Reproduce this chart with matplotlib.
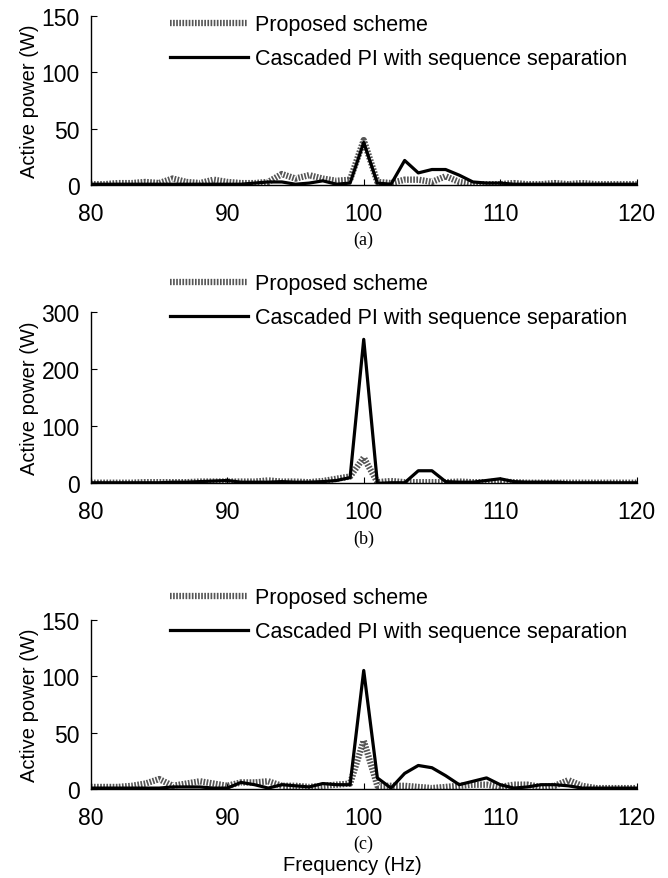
import numpy as np
import matplotlib.pyplot as plt
import matplotlib.patheffects as pe

freq = np.arange(80, 121)

# (a)
proposed_a = [1, 1, 2, 2, 3, 2, 6, 3, 2, 5, 3, 2, 2, 3, 10, 6, 9, 6, 4, 5,
              40, 3, 2, 5, 5, 3, 8, 3, 1, 1, 1, 2, 1, 1, 2, 1, 2, 1, 1, 1, 1]
cascaded_a = [1, 1, 1, 1, 1, 1, 1, 1, 1, 1, 1, 1, 2, 3, 3, 1, 2, 4, 1, 2,
              38, 2, 1, 22, 11, 14, 14, 9, 3, 2, 2, 1, 1, 1, 1, 1, 1, 1, 1, 1, 1]
# (b)
proposed_b = [1, 1, 1, 1, 2, 2, 2, 2, 3, 3, 3, 3, 3, 5, 3, 3, 2, 4, 8, 12,
              45, 2, 4, 2, 2, 2, 2, 3, 2, 2, 3, 2, 1, 1, 1, 1, 1, 1, 1, 1, 1]
cascaded_b = [1, 1, 1, 1, 1, 1, 2, 2, 3, 4, 5, 2, 2, 2, 3, 2, 2, 3, 5, 10,
              252, 0, 1, 1, 22, 22, 3, 2, 2, 5, 8, 3, 2, 2, 2, 1, 1, 1, 1, 1, 1]
# (c)
proposed_c = [2, 2, 2, 3, 5, 9, 3, 5, 7, 5, 3, 6, 6, 7, 3, 3, 2, 3, 4, 5,
              43, 3, 3, 3, 2, 1, 2, 3, 4, 4, 2, 4, 4, 2, 3, 8, 3, 1, 1, 1, 1]
cascaded_c = [1, 1, 1, 1, 1, 1, 2, 2, 2, 1, 1, 6, 4, 1, 4, 3, 2, 5, 4, 4,
              105, 10, 1, 14, 21, 19, 12, 4, 7, 10, 4, 1, 2, 4, 4, 3, 1, 1, 1, 1, 1]

panels = [
    ("(a)", proposed_a, cascaded_a, 150, [0, 50, 100, 150]),
    ("(b)", proposed_b, cascaded_b, 300, [0, 100, 200, 300]),
    ("(c)", proposed_c, cascaded_c, 150, [0, 50, 100, 150]),
]

plt.rcParams['font.family'] = ['Liberation Sans', 'DejaVu Sans']

fig = plt.figure(figsize=(6.68, 8.79), dpi=100)
boxes = [(0.136, 0.788, 0.817, 0.193),
         (0.136, 0.449, 0.817, 0.195),
         (0.136, 0.101, 0.817, 0.193)]
legend_y = [1.06, 1.275, 1.24]

# hatched grey look of the "proposed" trace
hatch = [pe.Stroke(linewidth=4.5, foreground='#c4c4c4'), pe.Normal()]

for (cap, prop, casc, ymax, yt), box, ly in zip(panels, boxes, legend_y):
    ax = fig.add_axes(box)
    ax.plot(freq, prop, color='#555555', lw=4.5, linestyle=(0, (0.25, 0.25)),
            path_effects=hatch, label='Proposed scheme', zorder=2)
    ax.plot(freq, casc, color='black', lw=2.3, label='Cascaded PI with sequence separation', zorder=3)
    ax.set_xlim(80, 120)
    ax.set_ylim(0, ymax)
    ax.set_xticks([80, 90, 100, 110, 120])
    ax.set_yticks(yt)
    ax.spines['top'].set_visible(False)
    ax.spines['right'].set_visible(False)
    ax.spines['left'].set_linewidth(1.0)
    ax.spines['bottom'].set_linewidth(1.0)
    ax.tick_params(direction='in', labelsize=16.5, length=4)
    ax.tick_params(axis='x', pad=12)
    ax.tick_params(axis='y', pad=8)
    ax.set_ylabel('Active power (W)', fontsize=14.5, labelpad=2)
    ax.legend(loc='upper left', bbox_to_anchor=(0.13, ly), frameon=False,
              fontsize=15.5, handlelength=3.6, handletextpad=0.35, labelspacing=0.6,
              borderaxespad=0)
    ax.text(0.5, -0.32, cap, transform=ax.transAxes, ha='center', va='center',
            fontsize=13, family='Liberation Serif')

fig.text(0.5 + 0.136 / 2 - 0.04, 0.015, 'Frequency (Hz)', ha='center', va='center', fontsize=14.5)

fig.savefig('out.png', dpi=100)
